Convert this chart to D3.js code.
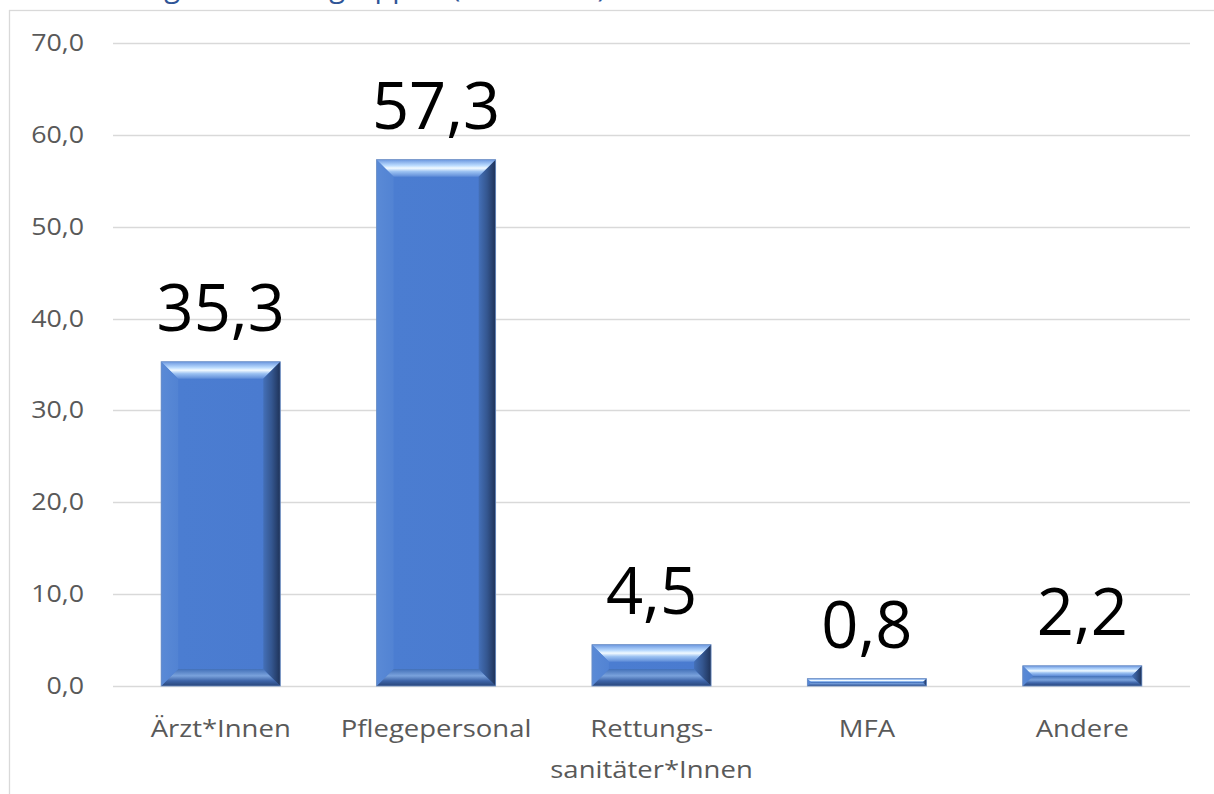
<!DOCTYPE html>
<html>
<head>
<meta charset="utf-8">
<script src="https://cdn.jsdelivr.net/npm/d3@7"></script>
<style>
  html, body { margin: 0; padding: 0; background: #fff; overflow: hidden; }
  svg { display: block; }
</style>
</head>
<body>
<div id="chart"></div>
<script>
// chart data
const categories = ['Ärzt*Innen', 'Pflegepersonal', 'Rettungs-\nsanitäter*Innen', 'MFA', 'Andere'];
const values = [35.3, 57.3, 4.5, 0.8, 2.2];
const yTicks = [0, 10, 20, 30, 40, 50, 60, 70];
const title = 'Verteilung der Berufsgruppen (in Prozent)';

const width = 1214, height = 794;
const fmt = v => d3.format('.1f')(v).replace('.', ',');

const svg = d3.select('#chart').append('svg')
    .attr('width', width)
    .attr('height', height);

const defs = svg.append('defs');

function grad(id, dir, stops) {
    let g = defs.append('linearGradient').attr('id', id);
    if (dir === 'v') g.attr('x1', 0).attr('y1', 0).attr('x2', 0).attr('y2', 1);
    else g.attr('x1', 0).attr('y1', 0).attr('x2', 1).attr('y2', 0);
    stops.forEach(s => g.append('stop').attr('offset', s[0]).attr('stop-color', s[1]));
}
grad('face', 'h', [[0, '#5486d6'], [0.15, '#4b7dd1'], [0.85, '#4a7bd0'], [1, '#4674c4']]);
grad('bevTop', 'v', [[0, '#6c98e0'], [0.35, '#bcdcff'], [0.5, '#f2faff'], [0.7, '#9cc2f2'], [1, '#5e8cd8']]);
grad('bevRight', 'h', [[0, '#4470b8'], [0.5, '#34568f'], [1, '#1e3258']]);
grad('bevBottom', 'v', [[0, '#4270b8'], [0.4, '#7aa2dc'], [0.7, '#3d64a8'], [1, '#2a467a']]);
grad('bevLeft', 'h', [[0, '#5a8ad6'], [1, '#5283d3']]);

// outer chart frame
svg.append('rect')
    .attr('x', 9.5).attr('y', 10.5)
    .attr('width', width + 20).attr('height', height + 20)
    .attr('fill', 'none')
    .attr('stroke', '#d9d9d9')
    .attr('stroke-width', 1.3);

// title, cut off at the top edge like in the source
svg.append('text')
    .attr('x', 42).attr('y', -3)
    .attr('fill', '#2f5597')
    .style('font-family', '"Open Sans", sans-serif')
    .style('font-size', '29px')
    .text(title);

const x = d3.scaleBand()
    .domain(categories)
    .range([113, 1190])
    .paddingInner(0.447)
    .paddingOuter(0.2235);

const y = d3.scaleLinear()
    .domain([0, 70])
    .range([686, 43]);

// gridlines
svg.append('g').selectAll('line')
    .data(yTicks)
    .join('line')
    .attr('x1', 113).attr('x2', 1190)
    .attr('y1', d => Math.round(y(d)) + 0.5)
    .attr('y2', d => Math.round(y(d)) + 0.5)
    .attr('stroke', '#d9d9d9')
    .attr('stroke-width', 1.5);

// y tick labels
svg.append('g').selectAll('text')
    .data(yTicks)
    .join('text')
    .attr('transform', d => `translate(84,${y(d) + 8}) scale(1.14,1)`)
    .attr('text-anchor', 'end')
    .attr('fill', '#595959')
    .style('font-family', '"Open Sans", sans-serif')
    .style('font-size', '23.5px')
    .text(d => fmt(d));

// bars with bevel
const bars = svg.append('g').selectAll('g')
    .data(categories.map((c, i) => ({ c, v: values[i] })))
    .join('g');

bars.each(function(d) {
    const g = d3.select(this);
    const x0 = x(d.c), w = x.bandwidth();
    const y0 = y(d.v), y1 = y(0);
    const h = y1 - y0;
    const b = Math.min(17, h / 2, w / 2);
    const pts = p => p.map(q => q.join(',')).join(' ');
    g.append('rect')
        .attr('x', x0).attr('y', y0).attr('width', w).attr('height', h)
        .attr('fill', 'url(#face)');
    g.append('polygon')
        .attr('points', pts([[x0, y0], [x0 + w, y0], [x0 + w - b, y0 + b], [x0 + b, y0 + b]]))
        .attr('fill', 'url(#bevTop)');
    g.append('polygon')
        .attr('points', pts([[x0, y1], [x0 + w, y1], [x0 + w - b, y1 - b], [x0 + b, y1 - b]]))
        .attr('fill', 'url(#bevBottom)');
    g.append('polygon')
        .attr('points', pts([[x0, y0], [x0 + b, y0 + b], [x0 + b, y1 - b], [x0, y1]]))
        .attr('fill', 'url(#bevLeft)');
    g.append('polygon')
        .attr('points', pts([[x0 + w, y0], [x0 + w, y1], [x0 + w - b, y1 - b], [x0 + w - b, y0 + b]]))
        .attr('fill', 'url(#bevRight)');
    g.append('rect')
        .attr('x', x0).attr('y', y0).attr('width', w).attr('height', h)
        .attr('fill', 'none')
        .attr('stroke', '#6d8fc4')
        .attr('stroke-width', 0.8);
});

// value labels
svg.append('g').selectAll('text')
    .data(values)
    .join('text')
    .attr('x', (d, i) => x(categories[i]) + x.bandwidth() / 2)
    .attr('y', d => y(d) - 31)
    .attr('text-anchor', 'middle')
    .attr('fill', '#000')
    .style('font-family', '"Open Sans", sans-serif')
    .style('font-size', '65px')
    .text(d => fmt(d));

// category labels
const catLabels = svg.append('g').selectAll('text')
    .data(categories)
    .join('text')
    .attr('transform', d => `translate(${x(d) + x.bandwidth() / 2},737) scale(1.17,1)`)
    .attr('text-anchor', 'middle')
    .attr('fill', '#595959')
    .style('font-family', '"Open Sans", sans-serif')
    .style('font-size', '23.5px');

catLabels.each(function(d) {
    const t = d3.select(this);
    d.split('\n').forEach((line, i) => {
        t.append('tspan').attr('x', 0).attr('dy', i ? 41 : 0).text(line);
    });
});
</script>
</body>
</html>
